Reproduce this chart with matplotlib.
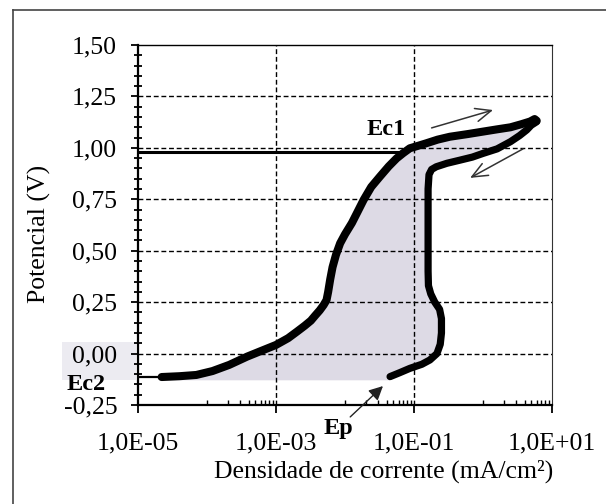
import numpy as np
import matplotlib
matplotlib.use("Agg")
import matplotlib.pyplot as plt
from matplotlib.ticker import FixedLocator, FixedFormatter, NullFormatter
from matplotlib.lines import Line2D
from matplotlib.patches import Rectangle

# current density (mA/cm2) and potential (V) of the cyclic polarization curve
start_i = [1.0e-5, 2.2e-5]
start_e = [-0.113, -0.113]

forward_i = [2.2e-5, 4.0e-5, 7.0e-5, 1.2e-4, 2.1e-4, 3.8e-4, 6.0e-4, 1.0e-3, 1.5e-3,
             2.0e-3, 2.6e-3, 3.2e-3, 3.7e-3, 4.3e-3, 4.9e-3, 5.4e-3, 5.7e-3, 6.1e-3,
             6.6e-3, 7.4e-3, 8.5e-3, 1.0e-2, 1.26e-2, 1.5e-2, 1.86e-2, 2.4e-2, 3.2e-2,
             4.3e-2, 5.6e-2, 7.0e-2, 8.7e-2, 0.12, 0.15, 0.22, 0.33, 0.6, 1.0, 1.6, 2.5,
             3.6, 4.8, 5.6, 6.0]
forward_e = [-0.114, -0.11, -0.104, -0.085, -0.055, -0.015, 0.012, 0.042, 0.075,
             0.106, 0.135, 0.16, 0.185, 0.21, 0.236, 0.26, 0.30, 0.36,
             0.42, 0.48, 0.536, 0.58, 0.635, 0.685, 0.747, 0.81, 0.86,
             0.91, 0.949, 0.975, 0.998, 1.012, 1.022, 1.04, 1.054, 1.067, 1.079, 1.09, 1.10,
             1.115, 1.128, 1.14, 1.132]

reverse_i = [6.0, 5.0, 4.3, 3.4, 2.5, 1.6, 1.0, 0.7, 0.46, 0.3, 0.21, 0.18, 0.165, 0.16,
             0.16, 0.16, 0.162, 0.175, 0.2, 0.235, 0.25, 0.25, 0.24, 0.215, 0.17, 0.13,
             0.087, 0.062, 0.045]
reverse_e = [1.127, 1.11, 1.087, 1.06, 1.03, 0.995, 0.973, 0.955, 0.94, 0.925, 0.908,
             0.895, 0.87, 0.80, 0.60, 0.40, 0.33, 0.29, 0.25, 0.215, 0.17, 0.10, 0.045,
             0.0, -0.031, -0.052, -0.072, -0.093, -0.112]

fill_floor = -0.13
ec1_level = 0.98
ec1_end_i = 0.068

x_ticks = [1e-5, 1e-3, 1e-1, 1e1]
x_labels = ["1,0E-05", "1,0E-03", "1,0E-01", "1,0E+01"]
y_ticks = [-0.25, 0.0, 0.25, 0.5, 0.75, 1.0, 1.25, 1.5]
y_labels = ["-0,25", "0,00", "0,25", "0,50", "0,75", "1,00", "1,25", "1,50"]

W, H = 606, 504
fig = plt.figure(figsize=(W / 100, H / 100), dpi=100)
plt.rcParams['font.family'] = ['Liberation Serif', 'DejaVu Serif']

def px(x, y):
    return x / W, 1 - y / H

# outer frame (only left and top edges show)
fig.add_artist(Line2D([13 / W, 1.0], [1 - 10 / H, 1 - 10 / H], color="#444444", lw=1.2))
fig.add_artist(Line2D([13 / W, 13 / W], [1 - 10 / H, 0.0], color="#444444", lw=1.2))
# grey box behind the lower y labels
fig.add_artist(Rectangle(px(62, 380), 74 / W, 38 / H, transform=fig.transFigure,
                         color="#ecebf1", lw=0, zorder=0))

ax = fig.add_axes([138 / W, 1 - 405 / H, 414 / W, 360 / H])
ax.patch.set_alpha(0)
ax.set_xscale("log")
ax.set_xlim(1e-5, 1e1)
ax.set_ylim(-0.25, 1.5)

# shaded area enclosed by the loop
poly_i = forward_i + reverse_i + [reverse_i[-1], forward_i[0]]
poly_e = forward_e + reverse_e + [fill_floor, fill_floor]
ax.fill(poly_i, poly_e, color="#dddae5", lw=0, zorder=1)

# dashed grid
for y in y_ticks[1:-1]:
    ax.axhline(y, color="black", lw=1.0, ls=(0, (3.5, 2)), zorder=2)
for x in x_ticks[1:-1]:
    ax.axvline(x, color="black", lw=1.0, ls=(0, (3.5, 2)), zorder=2)

ax.plot(start_i, start_e, color="black", lw=1.6, zorder=3)
ax.plot(forward_i, forward_e, color="black", lw=5.8, solid_capstyle="round",
        solid_joinstyle="round", zorder=4)
ax.plot(reverse_i, reverse_e, color="black", lw=5.2, solid_capstyle="round",
        solid_joinstyle="round", zorder=4)
ax.plot([1e-5, ec1_end_i], [ec1_level, ec1_level], color="black", lw=2.2, zorder=3)

# ticks
ax.xaxis.set_major_locator(FixedLocator(x_ticks))
ax.xaxis.set_major_formatter(FixedFormatter(x_labels))
minor_x = [k * 10.0 ** n for n in (-4, -2, 0) for k in range(1, 10)]
ax.xaxis.set_minor_locator(FixedLocator(minor_x))
ax.xaxis.set_minor_formatter(NullFormatter())
ax.yaxis.set_major_locator(FixedLocator(y_ticks))
ax.yaxis.set_major_formatter(FixedFormatter(y_labels))
ax.yaxis.set_minor_locator(FixedLocator(np.arange(-0.25, 1.51, 0.05)))

ax.tick_params(axis="x", which="major", direction="out", length=6, width=1.3,
               pad=14, labelsize=18.5, colors="black")
ax.tick_params(axis="x", which="minor", direction="in", length=3.5, width=1.0)
ax.tick_params(axis="y", which="major", direction="out", length=5, width=1.3,
               pad=10, labelsize=18.5)
ax.tick_params(axis="y", which="minor", direction="inout", length=6, width=1.3)

for side in ("left", "bottom"):
    ax.spines[side].set_linewidth(1.6)
ax.spines["top"].set_linewidth(1.0)
ax.spines["right"].set_linewidth(0.8)
ax.spines["right"].set_color("#333333")

fig.text(*px(39, 234), "Potencial (V)", rotation=90, ha="center", va="center",
         fontsize=18.5)
fig.text(*px(384, 471), "Densidade de corrente (mA/cm²)", ha="center",
         va="center", fontsize=18.5)

# labels and scan-direction arrows
bold = dict(fontsize=17.5, fontweight="bold", ha="center", va="center")
ax.text(0.040, 1.087, "Ec1", **bold)
ax.text(1.76e-6, -0.148, "Ec2", clip_on=False, **bold)
ax.text(7.9e-3, -0.362, "Ep", clip_on=False, **bold)

arrow = dict(arrowstyle="->,head_length=0.7,head_width=0.3", color="#333333",
             lw=1.1, mutation_scale=16, shrinkA=0, shrinkB=0)
ax.annotate("", xy=(1.4, 1.184), xytext=(0.18, 1.097), arrowprops=arrow)
ax.annotate("", xy=(0.65, 0.854), xytext=(3.8, 0.995), arrowprops=arrow)
ax.annotate("", xy=(3.55e-2, -0.158), xytext=(1.19e-2, -0.308), annotation_clip=False,
            arrowprops=dict(arrowstyle="-|>,head_length=0.6,head_width=0.3",
                            color="#222222", lw=1.0, mutation_scale=14,
                            shrinkA=0, shrinkB=0))

fig.savefig("out.png", dpi=100)
